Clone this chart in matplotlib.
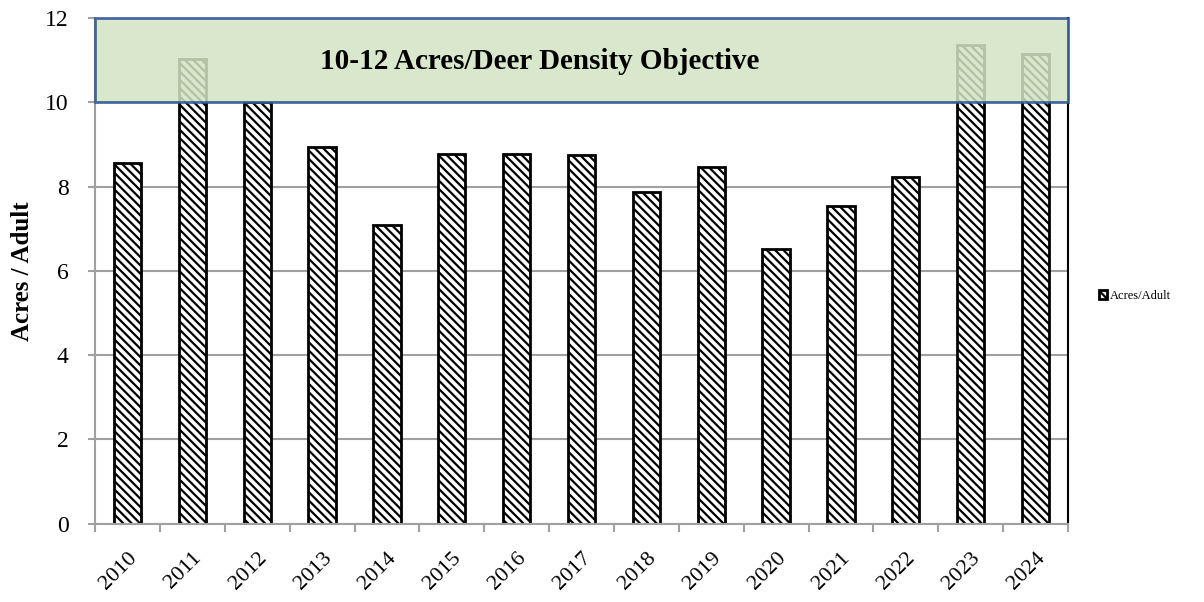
import matplotlib
matplotlib.use('Agg')
import matplotlib.pyplot as plt
from matplotlib.patches import Rectangle
import numpy as np

# datos
years = ['2010', '2011', '2012', '2013', '2014', '2015', '2016', '2017',
         '2018', '2019', '2020', '2021', '2022', '2023', '2024']
acres_per_adult = [8.56, 11.04, 10.0, 8.93, 7.09, 8.77, 8.77, 8.75,
                   7.87, 8.47, 6.53, 7.53, 8.23, 11.36, 11.14]
objective_low, objective_high = 10, 12
objective_label = '10-12 Acres/Deer Density Objective'

plt.rcParams['font.family'] = ['Liberation Serif', 'DejaVu Serif']
plt.rcParams['hatch.linewidth'] = 1.6

fig = plt.figure(figsize=(12.04, 6.02), dpi=100)
ax = fig.add_axes([0.079, 0.130, 0.808, 0.840])

x = np.arange(len(years))
ax.bar(x, acres_per_adult, width=0.42, facecolor='white', edgecolor='black',
       linewidth=2, hatch='\\\\\\\\', label='Acres/Adult', zorder=2)

ax.set_xlim(-0.5, len(years) - 0.5)
ax.set_ylim(0, 12)
ax.set_yticks(range(0, 13, 2))
ax.yaxis.grid(True, color='#a0a0a0', linewidth=1.5, zorder=0)
ax.set_axisbelow(True)

ax.set_xticks(x)
ax.set_xticklabels(years, rotation=45, ha='right', rotation_mode='anchor',
                   fontsize=16)
ax.set_xticks(np.arange(-0.5, len(years), 1), minor=True)
ax.tick_params(axis='x', which='major', length=0, pad=18)
ax.tick_params(axis='x', which='minor', length=6, width=1.5, color='#a0a0a0')
ax.tick_params(axis='y', length=5, width=1.5, color='#a0a0a0', labelsize=17, pad=14)

ax.spines['top'].set_visible(False)
ax.spines['left'].set_color('#a0a0a0')
ax.spines['left'].set_linewidth(1.5)
ax.spines['bottom'].set_color('#a0a0a0')
ax.spines['bottom'].set_linewidth(1.5)
ax.spines['right'].set_color('black')
ax.spines['right'].set_linewidth(1.5)

ax.set_ylabel('Acres / Adult', fontsize=18, fontweight='bold', labelpad=8)

# caja del objetivo
box = Rectangle((-0.5, objective_low), len(years), objective_high - objective_low,
                facecolor='#d3e5c3', edgecolor='#2f5597', linewidth=2,
                alpha=0.85, zorder=3, clip_on=False)
ax.add_patch(box)
ax.text(6.35, 10.96, objective_label, fontsize=21, fontweight='bold',
        ha='center', va='center', zorder=4)

leg = ax.legend(loc='center left', bbox_to_anchor=(1.02, 0.45), frameon=False,
                fontsize=9, handlelength=0.7, handleheight=0.7, handletextpad=0.2)

plt.savefig('out.png', dpi=100, facecolor='white')
plt.close()
